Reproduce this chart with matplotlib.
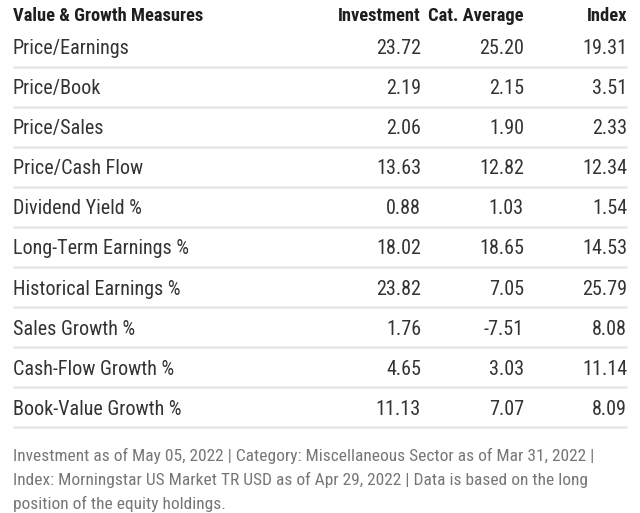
import matplotlib
matplotlib.use("Agg")
import matplotlib.pyplot as plt

# table contents
header = ["Value & Growth Measures", "Investment", "Cat. Average", "Index"]
metrics = ["Price/Earnings", "Price/Book", "Price/Sales", "Price/Cash Flow",
           "Dividend Yield %", "Long-Term Earnings %", "Historical Earnings %",
           "Sales Growth %", "Cash-Flow Growth %", "Book-Value Growth %"]
investment = ["23.72", "2.19", "2.06", "13.63", "0.88", "18.02", "23.82", "1.76", "4.65", "11.13"]
cat_average = ["25.20", "2.15", "1.90", "12.82", "1.03", "18.65", "7.05", "-7.51", "3.03", "7.07"]
index_vals = ["19.31", "3.51", "2.33", "12.34", "1.54", "14.53", "25.79", "8.08", "11.14", "8.09"]
footnote = ["Investment as of May 05, 2022 | Category: Miscellaneous Sector as of Mar 31, 2022 |",
            "Index: Morningstar US Market TR USD as of Apr 29, 2022 | Data is based on the long",
            "position of the equity holdings."]

plt.rcParams["font.family"] = ["Roboto Condensed", "Roboto", "DejaVu Sans"]

W, H = 640, 513
fig = plt.figure(figsize=(W / 100, H / 100), dpi=100)
ax = fig.add_axes([0, 0, 1, 1])
ax.set_xlim(0, W)
ax.set_ylim(H, 0)
ax.axis("off")

left = 13
col_right = [421, 524, 627]
row_h = 40.1
first_row = 48.5

# header row
ax.text(left, 16, header[0], fontsize=13.3, fontweight="bold", color="#1e1e1e",
        ha="left", va="center")
for x, name in zip(col_right, header[1:]):
    ax.text(x, 16, name, fontsize=13.3, fontweight="bold", color="#1e1e1e",
            ha="right", va="center")

for i, m in enumerate(metrics):
    y = first_row + i * row_h
    ax.text(left, y, m, fontsize=14.5, color="#333333", ha="left", va="center")
    for x, v in zip(col_right, (investment[i], cat_average[i], index_vals[i])):
        ax.text(x, y, v, fontsize=14.5, color="#333333", ha="right", va="center")
    ax.plot([left, col_right[-1]], [y + 18, y + 18], color="#e6e6e6", lw=1.8,
            solid_capstyle="butt")

for j, line in enumerate(footnote):
    ax.text(left, 455.5 + j * 24, line, fontsize=12.5, color="#767676",
            ha="left", va="center")

fig.savefig("out.png", dpi=100)
